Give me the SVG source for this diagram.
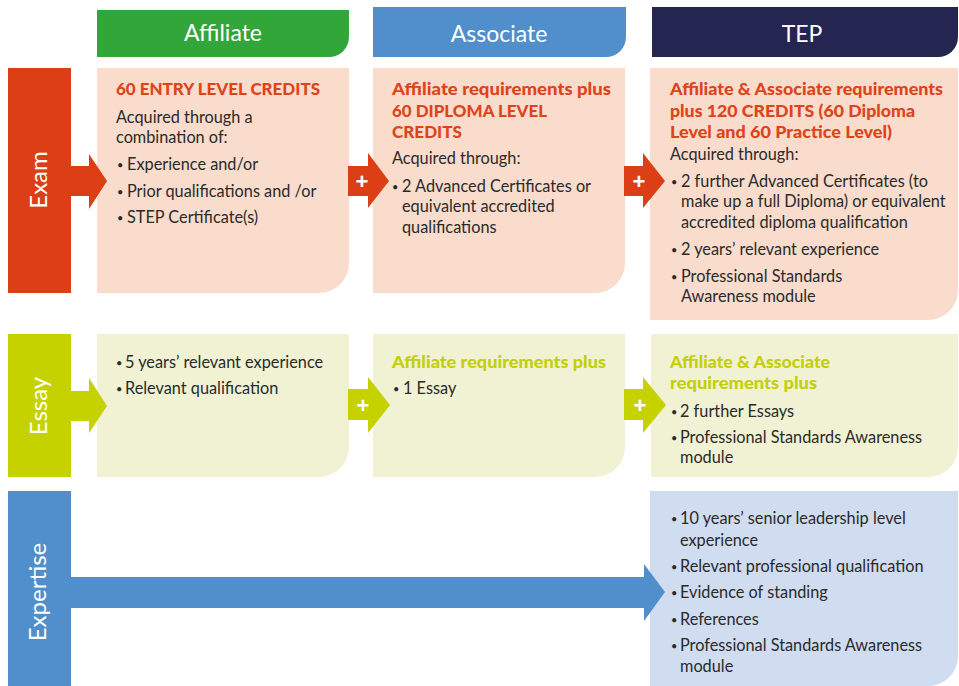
<svg xmlns="http://www.w3.org/2000/svg" width="959" height="686" viewBox="0 0 959 686">
<style>
.hd{font-family:Lato,"Liberation Sans",sans-serif;font-size:23px;fill:#fff;text-anchor:middle}
.vl{font-family:Lato,"Liberation Sans",sans-serif;font-size:24px;fill:#fff;text-anchor:middle}
.t{font-family:Lato,"Liberation Sans",sans-serif;font-size:16.3px;fill:#2a2a2a}
.bu{font-size:11px}
.b{font-family:Lato,"Liberation Sans",sans-serif;font-size:17px;font-weight:900}
.red{fill:#df4319}
.lime{fill:#c4cf0a}
.plus{font-family:"Liberation Sans",sans-serif;font-size:22px;font-weight:bold;fill:#fff;text-anchor:middle}
</style>
<rect width="959" height="686" fill="#fff"/>

<g id="header-affiliate">
<path d="M97 10H349V37A20 20 0 0 1 329 57H97Z" fill="#33a63a"/>
<text class="hd" x="223" y="41">Affiliate</text>
</g>
<g id="header-associate">
<path d="M373 7H626V37A20 20 0 0 1 606 57H373Z" fill="#518fcc"/>
<text class="hd" x="499" y="42">Associate</text>
</g>
<g id="header-tep">
<path d="M652 7H958V37A20 20 0 0 1 938 57H652Z" fill="#252552"/>
<text class="hd" x="802" y="42">TEP</text>
</g>

<g id="row-exam">
<rect x="8" y="68" width="63" height="225" fill="#dc3f16"/>
<text class="vl" transform="translate(47,180) rotate(-90)">Exam</text>
</g>
<g id="row-essay">
<rect x="8" y="334" width="63" height="143" fill="#c6d200"/>
<text class="vl" transform="translate(47,406) rotate(-90)">Essay</text>
</g>
<g id="row-expertise">
<rect x="8" y="491" width="63" height="195" fill="#518fcc"/>
<text class="vl" transform="translate(46,592) rotate(-90)">Expertise</text>
</g>

<g id="exam-affiliate">
<path d="M97 68H349V263A30 30 0 0 1 319 293H97Z" fill="#f9dccc"/>
<text class="b red" x="116" y="95" textLength="204" lengthAdjust="spacingAndGlyphs">60 ENTRY LEVEL CREDITS</text>
<text class="t" x="116" y="123">Acquired through a</text>
<text class="t" x="116" y="143">combination of:</text>
<text class="t" y="170"><tspan class="bu" x="117" dy="-1">•</tspan><tspan x="127" dy="1">Experience and/or</tspan></text>
<text class="t" y="197"><tspan class="bu" x="117" dy="-1">•</tspan><tspan x="127" dy="1">Prior qualifications and /or</tspan></text>
<text class="t" y="223"><tspan class="bu" x="117" dy="-1">•</tspan><tspan x="127" dy="1">STEP Certificate(s)</tspan></text>
</g>
<g id="exam-associate">
<path d="M373 68H625V263A30 30 0 0 1 595 293H373Z" fill="#f9dccc"/>
<text class="b red" x="392" y="95" textLength="219" lengthAdjust="spacingAndGlyphs">Affiliate requirements plus</text>
<text class="b red" x="392" y="117" textLength="155" lengthAdjust="spacingAndGlyphs">60 DIPLOMA LEVEL</text>
<text class="b red" x="392" y="138" textLength="70" lengthAdjust="spacingAndGlyphs">CREDITS</text>
<text class="t" x="392" y="164">Acquired through:</text>
<text class="t" y="192"><tspan class="bu" x="392" dy="-1">•</tspan><tspan x="402" dy="1">2 Advanced Certificates or</tspan></text>
<text class="t" x="402" y="212">equivalent accredited</text>
<text class="t" x="402" y="233">qualifications</text>
</g>
<g id="exam-tep">
<path d="M650 68H958V290A30 30 0 0 1 928 320H650Z" fill="#f9dccc"/>
<text class="b red" x="670" y="95" textLength="273" lengthAdjust="spacingAndGlyphs">Affiliate &amp; Associate requirements</text>
<text class="b red" x="670" y="117" textLength="245" lengthAdjust="spacingAndGlyphs">plus 120 CREDITS (60 Diploma</text>
<text class="b red" x="670" y="138" textLength="222" lengthAdjust="spacingAndGlyphs">Level and 60 Practice Level)</text>
<text class="t" x="670" y="160">Acquired through:</text>
<text class="t" y="187"><tspan class="bu" x="671" dy="-1">•</tspan><tspan x="681" dy="1">2 further Advanced Certificates (to</tspan></text>
<text class="t" x="681" y="207">make up a full Diploma) or equivalent</text>
<text class="t" x="681" y="228">accredited diploma qualification</text>
<text class="t" y="255"><tspan class="bu" x="671" dy="-1">•</tspan><tspan x="681" dy="1">2 years’ relevant experience</tspan></text>
<text class="t" y="282"><tspan class="bu" x="671" dy="-1">•</tspan><tspan x="681" dy="1">Professional Standards</tspan></text>
<text class="t" x="681" y="302">Awareness module</text>
</g>

<g id="essay-affiliate">
<path d="M97 334H349V447A30 30 0 0 1 319 477H97Z" fill="#f0f2d3"/>
<text class="t" y="368"><tspan class="bu" x="116" dy="-1">•</tspan><tspan x="125" dy="1">5 years’ relevant experience</tspan></text>
<text class="t" y="394"><tspan class="bu" x="116" dy="-1">•</tspan><tspan x="125" dy="1">Relevant qualification</tspan></text>
</g>
<g id="essay-associate">
<path d="M373 334H625V447A30 30 0 0 1 595 477H373Z" fill="#f0f2d3"/>
<text class="b lime" x="392" y="368" textLength="214" lengthAdjust="spacingAndGlyphs">Affiliate requirements plus</text>
<text class="t" y="394"><tspan class="bu" x="393" dy="-1">•</tspan><tspan x="403" dy="1">1 Essay</tspan></text>
</g>
<g id="essay-tep">
<path d="M651 334H958V447A30 30 0 0 1 928 477H651Z" fill="#f0f2d3"/>
<text class="b lime" x="670" y="368" textLength="160" lengthAdjust="spacingAndGlyphs">Affiliate &amp; Associate</text>
<text class="b lime" x="670" y="389" textLength="147" lengthAdjust="spacingAndGlyphs">requirements plus</text>
<text class="t" y="417"><tspan class="bu" x="671" dy="-1">•</tspan><tspan x="680" dy="1">2 further Essays</tspan></text>
<text class="t" y="443"><tspan class="bu" x="671" dy="-1">•</tspan><tspan x="680" dy="1">Professional Standards Awareness</tspan></text>
<text class="t" x="680" y="463">module</text>
</g>

<g id="expertise-tep">
<path d="M650 491H958V656A30 30 0 0 1 928 686H650Z" fill="#d0dcf0"/>
<text class="t" y="524"><tspan class="bu" x="671" dy="-1">•</tspan><tspan x="680" dy="1">10 years’ senior leadership level</tspan></text>
<text class="t" x="680" y="546">experience</text>
<text class="t" y="572"><tspan class="bu" x="671" dy="-1">•</tspan><tspan x="680" dy="1">Relevant professional qualification</tspan></text>
<text class="t" y="598"><tspan class="bu" x="671" dy="-1">•</tspan><tspan x="680" dy="1">Evidence of standing</tspan></text>
<text class="t" y="625"><tspan class="bu" x="671" dy="-1">•</tspan><tspan x="680" dy="1">References</tspan></text>
<text class="t" y="651"><tspan class="bu" x="671" dy="-1">•</tspan><tspan x="680" dy="1">Professional Standards Awareness</tspan></text>
<text class="t" x="680" y="672">module</text>
</g>

<g id="connectors">
<polygon points="71,166 89,166 89,154 107,181 89,209 89,196 71,196" fill="#dc3f16"/>
<polygon points="348,166 368,166 368,153 389,181 368,208 368,196 348,196" fill="#dc3f16"/>
<text class="plus" x="362" y="189">+</text>
<polygon points="624,166 643,166 643,153 665,181 643,208 643,196 624,196" fill="#dc3f16"/>
<text class="plus" x="639" y="189">+</text>

<polygon points="71,391 89,391 89,378 107,406 89,433 89,421 71,421" fill="#c6d200"/>
<polygon points="348,389 368,389 368,377 390,405 368,433 368,420 348,420" fill="#c6d200"/>
<text class="plus" x="363" y="413">+</text>
<polygon points="624,389 643,389 643,377 666,405 643,433 643,420 624,420" fill="#c6d200"/>
<text class="plus" x="640" y="413">+</text>

<polygon points="71,577 644,577 644,564 665,592 644,621 644,608 71,608" fill="#518fcc"/>
</g>
</svg>
